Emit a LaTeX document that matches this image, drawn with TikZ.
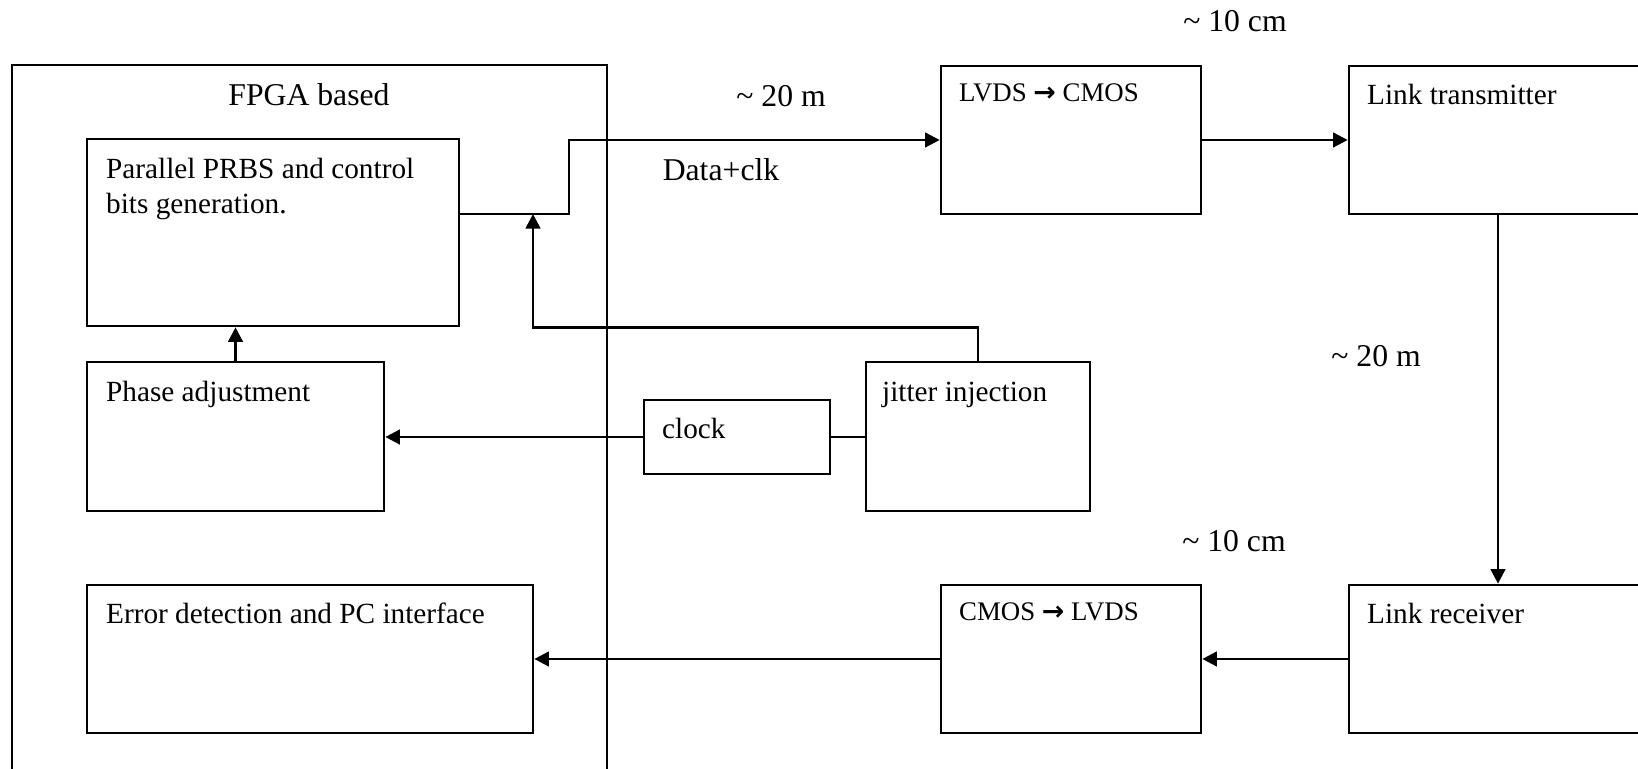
\documentclass[tikz,border=0pt]{standalone}
\usepackage{fontspec}
\setmainfont{Liberation Serif}
\newfontfamily\arrowfont{DejaVu Sans}
\usepackage{tikz}
\usetikzlibrary{arrows.meta}
\usetikzlibrary{fit, positioning}

\begin{document}
\begin{tikzpicture}[x=0.41pt, y=-0.41pt,
  block/.style={draw, line width=1.1pt, inner sep=0pt},
  intext/.style={anchor=base west, inner sep=0pt, align=left, font=\fontsize{12}{14.4}\selectfont},
  smalltext/.style={intext, font=\fontsize{11}{13}\selectfont},
  lbl/.style={anchor=base, inner sep=0pt, font=\fontsize{13}{15}\selectfont},
  wire/.style={line width=1.1pt},
  arr/.style={wire, -{Triangle[length=6pt, width=6pt]}}]
  \useasboundingbox (0,0) rectangle (1638,769);
  \clip (0,0) rectangle (1638,769);

  % fpga board, runs off the bottom
  \node[block, fit={(12,65) (607,800)}] (fpga) {};
  \node[lbl] (fpgalbl) at (309,106) {FPGA based};
  \node[block, fit={(87,139) (459,326)}] (prbs) {};
  % base of a two-line node sits on its last line
  \node[intext] (prbstxt) at ([shift={(20,76)}]prbs.north west) {Parallel PRBS and control\\bits generation.};
  \node[block, fit={(87,362) (384,511)}] (phase) {};
  \node[intext] (phasetxt) at ([shift={(20,41)}]phase.north west) {Phase adjustment};
  \node[block, fit={(87,585) (533,733)}] (err) {};
  \node[intext] (errtxt) at ([shift={(20,40)}]err.north west) {Error detection and PC interface};

  % clock and jitter source
  \node[block, fit={(644,400) (830,474)}] (clock) {};
  \node[intext] (clocktxt) at ([shift={(19,40)}]clock.north west) {clock};
  \node[block, fit={(866,362) (1090,511)}] (jitter) {};
  \node[intext] (jittertxt) at ([shift={(17,41)}]jitter.north west) {jitter injection};

  % link side, boxes run off the right edge
  \node[block, fit={(941,66) (1201,214)}] (lvds) {};
  \node[smalltext] (lvdstxt) at ([shift={(19,37)}]lvds.north west) {LVDS {\arrowfont\bfseries →} CMOS};
  \node[block, fit={(1349,66) (1647,214)}] (tx) {};
  \node[intext] (txtxt) at ([shift={(19,40)}]tx.north west) {Link transmitter};
  \node[block, fit={(941,585) (1201,733)}] (cmos) {};
  \node[smalltext] (cmostxt) at ([shift={(19,37)}]cmos.north west) {CMOS {\arrowfont\bfseries →} LVDS};
  \node[block, fit={(1349,585) (1647,733)}] (rx) {};
  \node[intext] (rxtxt) at ([shift={(19,40)}]rx.north west) {Link receiver};

  % distances
  \node[lbl] (dtop) at (1235,32) {\textasciitilde\ 10 cm};
  \node[lbl] (dcable) at (781,107) {\textasciitilde\ 20 m};
  \node[lbl] (datalbl) at (721,181) {Data+clk};
  \node[lbl] (dlink) at (1376,367) {\textasciitilde\ 20 m};
  \node[lbl] (dbot) at (1234,552) {\textasciitilde\ 10 cm};

  % connections
  \coordinate (bend) at (569,214);
  \coordinate (tap) at (533,214);
  \draw[arr] (prbs.east |- bend) -- (bend) |- (lvds.west);
  \draw[arr] (jitter.north) |- (prbs.south -| tap) -- (tap);
  \draw[arr] (lvds.east) -- (tx.west);
  \draw[arr] (tx.south) -- (rx.north);
  \draw[arr] (rx.west) -- (cmos.east);
  \draw[arr] (cmos.west) -- (err.east);
  \draw[wire] (jitter.west |- clock.east) -- (clock.east);
  \draw[arr] (clock.west) -- (phase.east |- clock.west);
  \draw[arr] (phase.north) -- (phase.north |- prbs.south);
\end{tikzpicture}
\end{document}
